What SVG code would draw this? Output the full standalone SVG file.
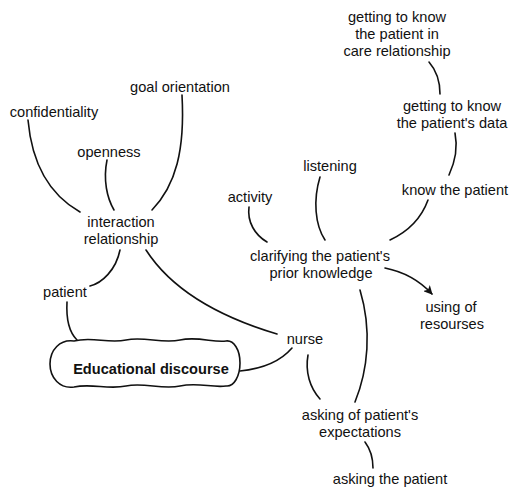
<svg xmlns="http://www.w3.org/2000/svg" width="511" height="488" viewBox="0 0 511 488">
  <style>
    .lbl { font-family: "Liberation Sans", Arial, Helvetica, sans-serif; font-size: 14.6px; fill: #111; text-anchor: middle; }
    .bold { font-weight: bold; }
    .link { fill: none; stroke: #111; stroke-width: 1.6; stroke-linecap: round; }
    .cloud { fill: #fff; stroke: #111; stroke-width: 1.6; }
  </style>
  <defs>
    <marker id="arrow" viewBox="0 0 10 10" refX="9" refY="5" markerWidth="9" markerHeight="9" orient="auto" markerUnits="userSpaceOnUse">
      <path d="M0,0 L10,5 L0,10 L2.5,5 Z" fill="#111"/>
    </marker>
  </defs>
  <rect width="511" height="488" fill="#fff"/>

  <!-- connectors -->
  <g id="connectors">
    <path class="link" d="M28,120 C32,165 50,195 80,212"/>
    <path class="link" d="M107,160 C103,180 107,198 114,210"/>
    <path class="link" d="M182,95 C185,150 176,185 152,210"/>
    <path class="link" d="M120,250 C116,270 102,283 90,286"/>
    <path class="link" d="M67,302 C66,320 70,333 77,340"/>
    <path class="link" d="M146,250 C175,295 230,320 277,334"/>
    <path class="link" d="M292,348 C280,362 260,369 240,371"/>
    <path class="link" d="M429,62 C436,70 440,82 440,94"/>
    <path class="link" d="M455,133 C458,148 455,162 449,175"/>
    <path class="link" d="M428,200 C420,222 405,233 390,240"/>
    <path class="link" d="M320,177 C313,200 315,225 325,240"/>
    <path class="link" d="M249,207 C247,222 255,235 267,242"/>
    <path class="link" d="M385,268 C405,272 420,281 432,294" marker-end="url(#arrow)"/>
    <path class="link" d="M360,290 C372,330 368,370 355,402"/>
    <path class="link" d="M308,355 C305,372 310,388 320,399"/>
    <path class="link" d="M365,442 C371,450 373,460 373,468"/>
  </g>

  <!-- nodes -->
  <g id="node-care">
    <text class="lbl" x="397" y="22">getting to know</text>
    <text class="lbl" x="397" y="39">the patient in</text>
    <text class="lbl" x="397" y="56">care relationship</text>
  </g>
  <g id="node-data">
    <text class="lbl" x="452" y="111">getting to know</text>
    <text class="lbl" x="452" y="128">the patient's data</text>
  </g>
  <g id="node-know">
    <text class="lbl" x="455" y="195">know the patient</text>
  </g>
  <g id="node-listening">
    <text class="lbl" x="330" y="171">listening</text>
  </g>
  <g id="node-activity">
    <text class="lbl" x="250" y="202">activity</text>
  </g>
  <g id="node-clarifying">
    <text class="lbl" x="320" y="261">clarifying the patient's</text>
    <text class="lbl" x="321" y="278">prior knowledge</text>
  </g>
  <g id="node-resources">
    <text class="lbl" x="451" y="312">using of</text>
    <text class="lbl" x="452" y="329">resourses</text>
  </g>
  <g id="node-nurse">
    <text class="lbl" x="305" y="344">nurse</text>
  </g>
  <g id="node-expectations">
    <text class="lbl" x="360" y="420">asking of patient's</text>
    <text class="lbl" x="360" y="437">expectations</text>
  </g>
  <g id="node-asking">
    <text class="lbl" x="390" y="484">asking the patient</text>
  </g>
  <g id="node-goal">
    <text class="lbl" x="180" y="92">goal orientation</text>
  </g>
  <g id="node-confidentiality">
    <text class="lbl" x="54" y="117">confidentiality</text>
  </g>
  <g id="node-openness">
    <text class="lbl" x="109" y="157">openness</text>
  </g>
  <g id="node-interaction">
    <text class="lbl" x="121" y="227">interaction</text>
    <text class="lbl" x="121" y="244">relationship</text>
  </g>
  <g id="node-patient">
    <text class="lbl" x="65" y="297">patient</text>
  </g>
  <g id="node-discourse">
    <!-- wavy cloud outline with round ends -->
    <path class="cloud" d="M74,341 C92,336 108,344 126,340 C144,336 162,344 180,340 C198,336 214,343 226,341 C234,340 240,350 240,363 C240,376 234,387 226,386 C212,388 198,382 180,386 C162,390 144,382 126,386 C108,390 92,383 74,387 C60,389 50,378 50,364 C50,350 60,339 74,341 Z"/>
    <text class="lbl bold" x="151" y="374">Educational discourse</text>
  </g>
</svg>
